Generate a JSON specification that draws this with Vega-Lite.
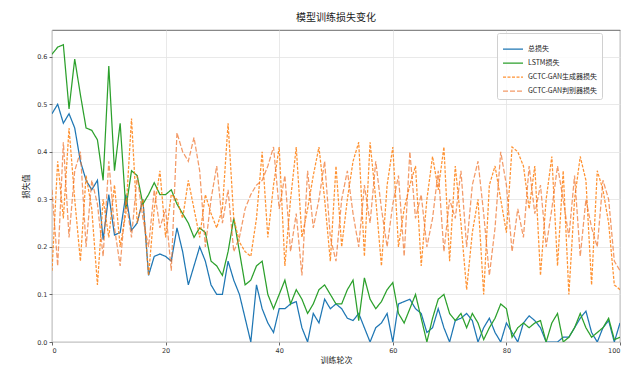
{
  "$schema": "https://vega.github.io/schema/vega-lite/v6.json",
  "autosize": {"type": "none"},
  "width": 568,
  "height": 312,
  "padding": {"left": 52, "top": 30, "right": 7, "bottom": 25},
  "title": {"text": "模型训练损失变化", "fontSize": 10, "font": "Noto Sans CJK SC", "fontWeight": "normal", "color": "#222", "offset": 7},
  "data": {
    "values": [
      {"epoch": 0, "total": 0.48, "lstm": 0.605, "gen": 0.15, "disc": 0.32},
      {"epoch": 1, "total": 0.50, "lstm": 0.62, "gen": 0.38, "disc": 0.16},
      {"epoch": 2, "total": 0.46, "lstm": 0.625, "gen": 0.26, "disc": 0.42},
      {"epoch": 3, "total": 0.48, "lstm": 0.49, "gen": 0.45, "disc": 0.22},
      {"epoch": 4, "total": 0.45, "lstm": 0.595, "gen": 0.30, "disc": 0.36},
      {"epoch": 5, "total": 0.38, "lstm": 0.52, "gen": 0.17, "disc": 0.40},
      {"epoch": 6, "total": 0.34, "lstm": 0.45, "gen": 0.35, "disc": 0.20},
      {"epoch": 7, "total": 0.32, "lstm": 0.445, "gen": 0.28, "disc": 0.34},
      {"epoch": 8, "total": 0.34, "lstm": 0.425, "gen": 0.12, "disc": 0.29},
      {"epoch": 9, "total": 0.215, "lstm": 0.34, "gen": 0.30, "disc": 0.18},
      {"epoch": 10, "total": 0.31, "lstm": 0.58, "gen": 0.22, "disc": 0.38},
      {"epoch": 11, "total": 0.225, "lstm": 0.36, "gen": 0.33, "disc": 0.24},
      {"epoch": 12, "total": 0.23, "lstm": 0.46, "gen": 0.20, "disc": 0.16},
      {"epoch": 13, "total": 0.31, "lstm": 0.28, "gen": 0.27, "disc": 0.30},
      {"epoch": 14, "total": 0.235, "lstm": 0.36, "gen": 0.47, "disc": 0.22},
      {"epoch": 15, "total": 0.25, "lstm": 0.35, "gen": 0.25, "disc": 0.35},
      {"epoch": 16, "total": 0.30, "lstm": 0.29, "gen": 0.30, "disc": 0.26},
      {"epoch": 17, "total": 0.14, "lstm": 0.31, "gen": 0.14, "disc": 0.20},
      {"epoch": 18, "total": 0.18, "lstm": 0.335, "gen": 0.28, "disc": 0.32},
      {"epoch": 19, "total": 0.185, "lstm": 0.31, "gen": 0.36, "disc": 0.24},
      {"epoch": 20, "total": 0.18, "lstm": 0.31, "gen": 0.22, "disc": 0.28},
      {"epoch": 21, "total": 0.17, "lstm": 0.32, "gen": 0.31, "disc": 0.15},
      {"epoch": 22, "total": 0.24, "lstm": 0.29, "gen": 0.30, "disc": 0.44},
      {"epoch": 23, "total": 0.19, "lstm": 0.27, "gen": 0.26, "disc": 0.40},
      {"epoch": 24, "total": 0.12, "lstm": 0.25, "gen": 0.34, "disc": 0.38},
      {"epoch": 25, "total": 0.16, "lstm": 0.22, "gen": 0.28, "disc": 0.43},
      {"epoch": 26, "total": 0.20, "lstm": 0.24, "gen": 0.22, "disc": 0.36},
      {"epoch": 27, "total": 0.17, "lstm": 0.23, "gen": 0.31, "disc": 0.20},
      {"epoch": 28, "total": 0.12, "lstm": 0.17, "gen": 0.27, "disc": 0.30},
      {"epoch": 29, "total": 0.10, "lstm": 0.16, "gen": 0.24, "disc": 0.37},
      {"epoch": 30, "total": 0.10, "lstm": 0.14, "gen": 0.28, "disc": 0.25},
      {"epoch": 31, "total": 0.17, "lstm": 0.19, "gen": 0.46, "disc": 0.32},
      {"epoch": 32, "total": 0.13, "lstm": 0.26, "gen": 0.26, "disc": 0.19},
      {"epoch": 33, "total": 0.10, "lstm": 0.19, "gen": 0.21, "disc": 0.22},
      {"epoch": 34, "total": 0.05, "lstm": 0.12, "gen": 0.19, "disc": 0.28},
      {"epoch": 35, "total": 0.0, "lstm": 0.13, "gen": 0.18, "disc": 0.31},
      {"epoch": 36, "total": 0.12, "lstm": 0.16, "gen": 0.26, "disc": 0.33},
      {"epoch": 37, "total": 0.07, "lstm": 0.17, "gen": 0.40, "disc": 0.34},
      {"epoch": 38, "total": 0.04, "lstm": 0.10, "gen": 0.22, "disc": 0.37},
      {"epoch": 39, "total": 0.02, "lstm": 0.07, "gen": 0.33, "disc": 0.41},
      {"epoch": 40, "total": 0.07, "lstm": 0.10, "gen": 0.41, "disc": 0.28},
      {"epoch": 41, "total": 0.07, "lstm": 0.13, "gen": 0.16, "disc": 0.35},
      {"epoch": 42, "total": 0.08, "lstm": 0.08, "gen": 0.30, "disc": 0.19},
      {"epoch": 43, "total": 0.085, "lstm": 0.11, "gen": 0.41, "disc": 0.27},
      {"epoch": 44, "total": 0.03, "lstm": 0.09, "gen": 0.22, "disc": 0.14},
      {"epoch": 45, "total": 0.0, "lstm": 0.06, "gen": 0.28, "disc": 0.36},
      {"epoch": 46, "total": 0.06, "lstm": 0.08, "gen": 0.35, "disc": 0.24},
      {"epoch": 47, "total": 0.04, "lstm": 0.11, "gen": 0.41, "disc": 0.30},
      {"epoch": 48, "total": 0.09, "lstm": 0.12, "gen": 0.30, "disc": 0.38},
      {"epoch": 49, "total": 0.07, "lstm": 0.10, "gen": 0.17, "disc": 0.22},
      {"epoch": 50, "total": 0.08, "lstm": 0.08, "gen": 0.37, "disc": 0.17},
      {"epoch": 51, "total": 0.07, "lstm": 0.08, "gen": 0.20, "disc": 0.30},
      {"epoch": 52, "total": 0.05, "lstm": 0.11, "gen": 0.30, "disc": 0.36},
      {"epoch": 53, "total": 0.045, "lstm": 0.13, "gen": 0.38, "disc": 0.27},
      {"epoch": 54, "total": 0.06, "lstm": 0.045, "gen": 0.42, "disc": 0.20},
      {"epoch": 55, "total": 0.03, "lstm": 0.135, "gen": 0.18, "disc": 0.33},
      {"epoch": 56, "total": 0.0, "lstm": 0.09, "gen": 0.42, "disc": 0.25},
      {"epoch": 57, "total": 0.03, "lstm": 0.07, "gen": 0.30, "disc": 0.38},
      {"epoch": 58, "total": 0.04, "lstm": 0.085, "gen": 0.16, "disc": 0.28},
      {"epoch": 59, "total": 0.06, "lstm": 0.11, "gen": 0.33, "disc": 0.20},
      {"epoch": 60, "total": 0.0, "lstm": 0.125, "gen": 0.41, "disc": 0.29},
      {"epoch": 61, "total": 0.08, "lstm": 0.06, "gen": 0.20, "disc": 0.35},
      {"epoch": 62, "total": 0.085, "lstm": 0.04, "gen": 0.28, "disc": 0.18},
      {"epoch": 63, "total": 0.09, "lstm": 0.07, "gen": 0.33, "disc": 0.40},
      {"epoch": 64, "total": 0.07, "lstm": 0.10, "gen": 0.37, "disc": 0.26},
      {"epoch": 65, "total": 0.06, "lstm": 0.05, "gen": 0.16, "disc": 0.31},
      {"epoch": 66, "total": 0.02, "lstm": 0.0, "gen": 0.30, "disc": 0.20},
      {"epoch": 67, "total": 0.03, "lstm": 0.05, "gen": 0.39, "disc": 0.26},
      {"epoch": 68, "total": 0.07, "lstm": 0.09, "gen": 0.32, "disc": 0.36},
      {"epoch": 69, "total": 0.03, "lstm": 0.10, "gen": 0.41, "disc": 0.19},
      {"epoch": 70, "total": 0.0, "lstm": 0.06, "gen": 0.17, "disc": 0.30},
      {"epoch": 71, "total": 0.045, "lstm": 0.045, "gen": 0.37, "disc": 0.26},
      {"epoch": 72, "total": 0.05, "lstm": 0.06, "gen": 0.25, "disc": 0.36},
      {"epoch": 73, "total": 0.06, "lstm": 0.03, "gen": 0.11, "disc": 0.20},
      {"epoch": 74, "total": 0.045, "lstm": 0.06, "gen": 0.23, "disc": 0.33},
      {"epoch": 75, "total": 0.0, "lstm": 0.04, "gen": 0.30, "disc": 0.38},
      {"epoch": 76, "total": 0.03, "lstm": 0.005, "gen": 0.10, "disc": 0.27},
      {"epoch": 77, "total": 0.05, "lstm": 0.03, "gen": 0.33, "disc": 0.14},
      {"epoch": 78, "total": 0.02, "lstm": 0.05, "gen": 0.37, "disc": 0.24},
      {"epoch": 79, "total": 0.0, "lstm": 0.08, "gen": 0.30, "disc": 0.40},
      {"epoch": 80, "total": 0.04, "lstm": 0.07, "gen": 0.23, "disc": 0.33},
      {"epoch": 81, "total": 0.02, "lstm": 0.01, "gen": 0.41, "disc": 0.19},
      {"epoch": 82, "total": 0.0, "lstm": 0.03, "gen": 0.40, "disc": 0.28},
      {"epoch": 83, "total": 0.04, "lstm": 0.04, "gen": 0.37, "disc": 0.22},
      {"epoch": 84, "total": 0.055, "lstm": 0.03, "gen": 0.28, "disc": 0.37},
      {"epoch": 85, "total": 0.045, "lstm": 0.04, "gen": 0.37, "disc": 0.27},
      {"epoch": 86, "total": 0.03, "lstm": 0.045, "gen": 0.14, "disc": 0.33},
      {"epoch": 87, "total": 0.0, "lstm": 0.0, "gen": 0.30, "disc": 0.20},
      {"epoch": 88, "total": 0.0, "lstm": 0.04, "gen": 0.39, "disc": 0.28},
      {"epoch": 89, "total": 0.0, "lstm": 0.06, "gen": 0.16, "disc": 0.37},
      {"epoch": 90, "total": 0.01, "lstm": 0.0, "gen": 0.36, "disc": 0.30},
      {"epoch": 91, "total": 0.01, "lstm": 0.01, "gen": 0.10, "disc": 0.22},
      {"epoch": 92, "total": 0.03, "lstm": 0.03, "gen": 0.30, "disc": 0.35},
      {"epoch": 93, "total": 0.05, "lstm": 0.06, "gen": 0.39, "disc": 0.18},
      {"epoch": 94, "total": 0.065, "lstm": 0.03, "gen": 0.34, "disc": 0.30},
      {"epoch": 95, "total": 0.02, "lstm": 0.01, "gen": 0.12, "disc": 0.24},
      {"epoch": 96, "total": 0.0, "lstm": 0.02, "gen": 0.36, "disc": 0.20},
      {"epoch": 97, "total": 0.03, "lstm": 0.03, "gen": 0.32, "disc": 0.34},
      {"epoch": 98, "total": 0.045, "lstm": 0.05, "gen": 0.25, "disc": 0.30},
      {"epoch": 99, "total": 0.0, "lstm": 0.005, "gen": 0.12, "disc": 0.17},
      {"epoch": 100, "total": 0.04, "lstm": 0.01, "gen": 0.11, "disc": 0.15}
    ]
  },
  "transform": [
    {"fold": ["total", "lstm", "gen", "disc"], "as": ["series", "loss"]}
  ],
  "mark": {"type": "line", "strokeWidth": 1.25, "clip": true},
  "encoding": {
    "x": {
      "field": "epoch", "type": "quantitative",
      "scale": {"domain": [0, 100], "nice": false},
      "axis": {"title": "训练轮次", "values": [0, 20, 40, 60, 80, 100]}
    },
    "y": {
      "field": "loss", "type": "quantitative",
      "scale": {"domain": [0, 0.656], "nice": false},
      "axis": {"title": "损失值", "values": [0, 0.1, 0.2, 0.3, 0.4, 0.5, 0.6], "format": ".1f"}
    },
    "color": {
      "field": "series", "type": "nominal",
      "scale": {
        "domain": ["total", "lstm", "gen", "disc"],
        "range": ["#1f77b4", "#2ca02c", "rgba(255,127,14,0.85)", "rgba(238,115,45,0.72)"]
      },
      "legend": {
        "title": null, "orient": "none", "legendX": 445, "legendY": 3,
        "labelExpr": "{'total': '总损失', 'lstm': 'LSTM损失', 'gen': 'GCTC-GAN生成器损失', 'disc': 'GCTC-GAN判别器损失'}[datum.label]",
        "symbolType": "stroke", "symbolSize": 400, "symbolStrokeWidth": 1.25,
        "labelFontSize": 7, "labelFont": "Noto Sans CJK SC", "labelColor": "#222",
        "rowPadding": 0, "padding": 5, "fillColor": "rgba(255,255,255,0.8)", "strokeColor": "#d0d0d0",
        "cornerRadius": 2
      }
    },
    "strokeDash": {
      "field": "series", "type": "nominal",
      "scale": {
        "domain": ["total", "lstm", "gen", "disc"],
        "range": [[1, 0], [1, 0], [3, 1.5], [5, 2]]
      },
      "legend": null
    }
  },
  "config": {
    "font": "Noto Sans CJK SC",
    "view": {"stroke": "#444", "strokeWidth": 0.8},
    "axis": {
      "grid": true, "gridColor": "#e3e3e3", "gridWidth": 0.8,
      "domain": false, "tickColor": "#444", "tickSize": 3, "tickWidth": 0.8,
      "labelFont": "DejaVu Sans", "labelFontSize": 6.5, "labelColor": "#333", "labelPadding": 2,
      "titleFont": "Noto Sans CJK SC", "titleFontSize": 8, "titleFontWeight": "normal", "titleColor": "#222"
    },
    "axisX": {"titlePadding": 3},
    "axisY": {"titlePadding": 6}
  }
}
